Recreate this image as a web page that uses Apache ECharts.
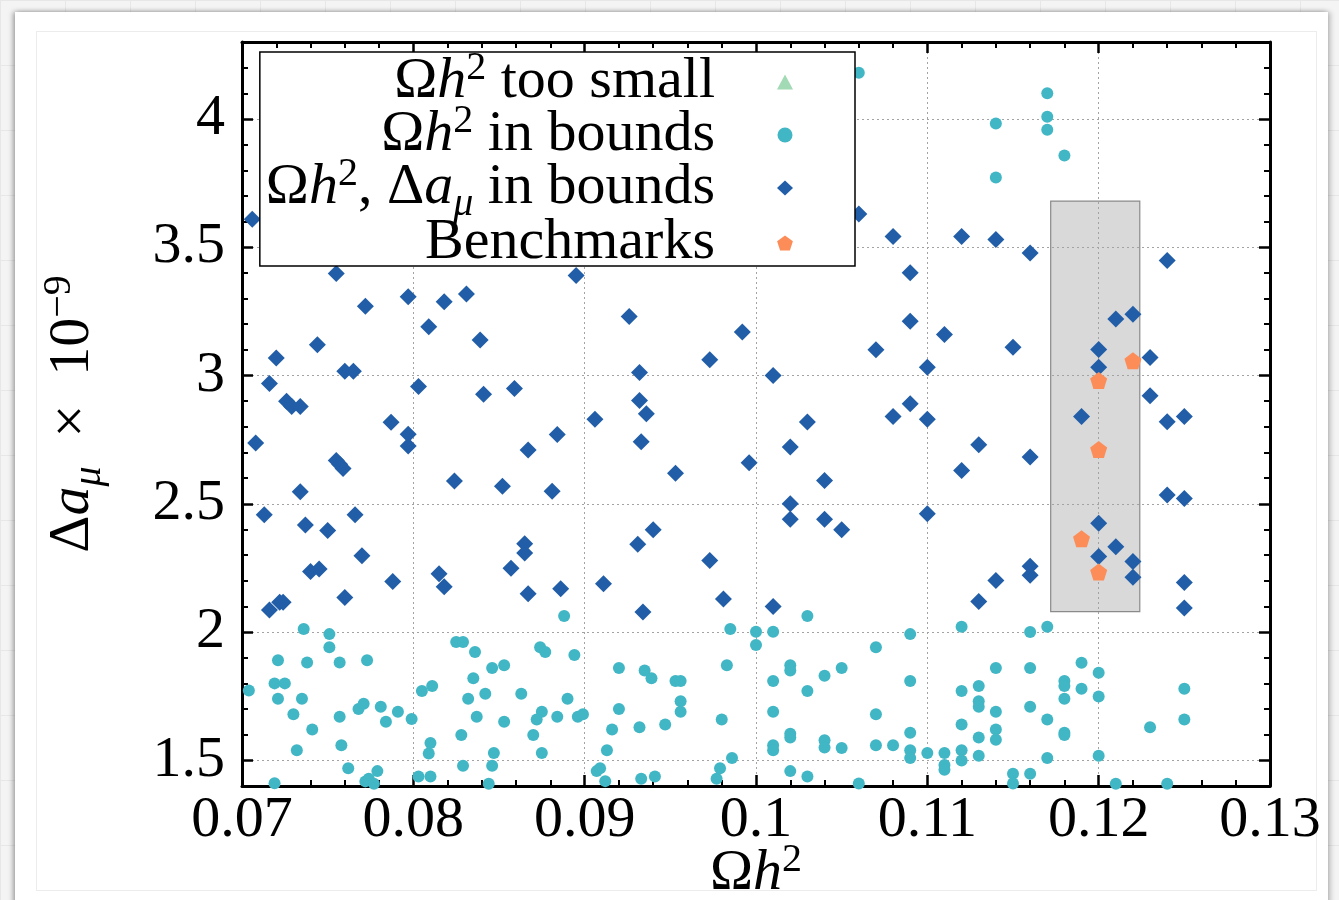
<!DOCTYPE html>
<html>
<head>
<meta charset="utf-8">
<title>Relic density vs muon g-2</title>
<script src="https://cdn.jsdelivr.net/npm/echarts@6/dist/echarts.min.js"></script>
<style>
  html, body { margin: 0; padding: 0; width: 1339px; height: 900px; overflow: hidden; }
  body {
    background-color: #f4f4f4;
    background-image: linear-gradient(#e7e7e7 1px, transparent 1px),
                      linear-gradient(90deg, #e7e7e7 1px, transparent 1px);
    background-size: 65px 65px;
  }
  #sheet {
    position: absolute; left: 15px; top: 12px; width: 1313px; height: 900px;
    background: #ffffff;
    box-shadow: -2px 0 5px rgba(0,0,0,0.35), 3px 0 5px rgba(0,0,0,0.18);
  }
  #inner {
    position: absolute; left: 36px; top: 31px; width: 1281px; height: 860px;
    border: 1px solid #ececec; box-sizing: border-box;
  }
  #chart { position: absolute; left: 0; top: 0; width: 1339px; height: 900px; }
</style>
</head>
<body>
<div id="sheet"></div>
<div id="inner"></div>
<div id="chart"></div>
<script>
// Scan points: [Omega h^2, Delta a_mu x 1e9]
const tooSmall = [];

const inBounds = [
  [0.0704,1.772],[0.0719,1.411],[0.0719,1.800],[0.0721,1.890],[0.0721,1.740],[0.0725,1.800],
  [0.0730,1.680],[0.0732,1.539],[0.0735,1.740],[0.0736,2.012],[0.0738,1.881],[0.0741,1.620],
  [0.0751,1.992],[0.0751,1.941],[0.0757,1.881],[0.0757,1.670],[0.0758,1.559],[0.0762,1.469],
  [0.0768,1.700],[0.0771,1.721],[0.0773,1.890],[0.0772,1.418],[0.0774,1.428],[0.0777,1.409],
  [0.0779,1.458],[0.0781,1.709],[0.0784,1.650],[0.0791,1.689],[0.0799,1.661],[0.0803,1.437],
  [0.0805,1.770],[0.0811,1.790],[0.0809,1.527],[0.0810,1.568],[0.0810,1.437],[0.0825,1.961],
  [0.0829,1.961],[0.0836,1.922],[0.0835,1.820],[0.0832,1.740],[0.0842,1.760],[0.0846,1.860],
  [0.0853,1.871],[0.0837,1.670],[0.0828,1.599],[0.0829,1.479],[0.0846,1.479],[0.0847,1.529],
  [0.0844,1.409],[0.0853,1.650],[0.0863,1.760],[0.0874,1.941],[0.0877,1.922],[0.0875,1.689],
  [0.0872,1.659],[0.0870,1.599],[0.0875,1.529],[0.0884,1.670],[0.0888,2.063],[0.0890,1.740],
  [0.0894,1.911],[0.0896,1.670],[0.0899,1.680],[0.0907,1.458],[0.0909,1.469],[0.0912,1.419],
  [0.0913,1.539],[0.0916,1.620],[0.0920,1.700],[0.0920,1.860],[0.0932,1.629],[0.0933,1.428],
  [0.0935,1.850],[0.0939,1.820],[0.0941,1.437],[0.0947,1.640],[0.0953,1.809],[0.0956,1.809],
  [0.0956,1.730],[0.0956,1.689],[0.0977,1.428],[0.0979,1.469],[0.0980,1.659],[0.0983,1.871],
  [0.0985,2.012],[0.0986,1.509],[0.1000,2.001],[0.1000,1.950],[0.1010,2.001],[0.1010,1.809],
  [0.1010,1.689],[0.1010,1.559],[0.1010,1.539],
  [0.1030,2.063],[0.1030,1.770],[0.1030,1.437],[0.1020,1.871],[0.1020,1.850],[0.1020,1.604],
  [0.1020,1.589],[0.1020,1.458],[0.1040,1.830],[0.1040,1.578],[0.1040,1.550],[0.1050,1.860],
  [0.1050,1.548],[0.1060,1.410],[0.1070,1.941],[0.1070,1.680],[0.1070,1.559],[0.1080,1.559],
  [0.1090,1.992],[0.1090,1.809],[0.1090,1.608],[0.1090,1.539],[0.1090,1.509],[0.1100,1.529],
  [0.1110,1.529],[0.1110,1.482],[0.1110,1.463],[0.1120,2.021],[0.1120,1.770],[0.1120,1.640],
  [0.1120,1.539],[0.1120,1.499],[0.1130,1.790],[0.1130,1.730],[0.1130,1.709],[0.1130,1.589],
  [0.1130,1.518],[0.1140,1.860],[0.1140,1.689],[0.1140,1.620],[0.1140,1.580],[0.1150,1.448],
  [0.1150,1.410],[0.1160,2.000],[0.1160,1.860],[0.1160,1.709],[0.1160,1.448],[0.1170,2.021],
  [0.1170,1.659],[0.1170,1.509],[0.1180,1.809],[0.1180,1.790],[0.1180,1.740],[0.1180,1.608],
  [0.1180,1.599],[0.1190,1.880],[0.1190,1.779],[0.1200,1.841],[0.1200,1.749],[0.1200,1.518],
  [0.1210,1.409],[0.1230,1.629],[0.1240,1.409],[0.1250,1.779],[0.1250,1.659],
  [0.1060,4.180],[0.1140,3.982],[0.1140,3.772],[0.1170,4.100],[0.1170,4.009],[0.1170,3.958],
  [0.1180,3.858]
];

const bothInBounds = [
  [0.0706,3.609],[0.0755,3.398],[0.0772,3.270],[0.0797,3.307],[0.0818,3.288],[0.0831,3.318],
  [0.0809,3.190],[0.0839,3.138],[0.0744,3.120],[0.0720,3.068],[0.0760,3.017],[0.0765,3.017],
  [0.0716,2.969],[0.0803,2.957],[0.0841,2.927],[0.0726,2.900],[0.0729,2.879],[0.0734,2.879],
  [0.0787,2.818],[0.0797,2.771],[0.0797,2.725],[0.0708,2.737],[0.0755,2.669],[0.0757,2.654],
  [0.0759,2.638],[0.0824,2.589],[0.0852,2.568],[0.0734,2.547],[0.0713,2.457],[0.0766,2.457],
  [0.0737,2.417],[0.0750,2.396],[0.0770,2.297],[0.0740,2.236],[0.0745,2.246],[0.0815,2.227],
  [0.0818,2.177],[0.0788,2.197],[0.0760,2.135],[0.0716,2.086],[0.0722,2.116],[0.0724,2.116],
  [0.0895,3.390],[0.0926,3.230],[0.0992,3.170],[0.0973,3.061],[0.0932,3.012],[0.0859,2.949],
  [0.0932,2.903],[0.0936,2.851],[0.0906,2.830],[0.0884,2.770],[0.0867,2.710],[0.0933,2.742],
  [0.0996,2.660],[0.0953,2.619],[0.0881,2.549],[0.0940,2.399],[0.0931,2.342],[0.0865,2.344],
  [0.0865,2.308],[0.0857,2.249],[0.0973,2.279],[0.0911,2.188],[0.0886,2.169],[0.0867,2.149],
  [0.0981,2.129],[0.0934,2.078],
  [0.1060,3.630],[0.1080,3.542],[0.1120,3.542],[0.1140,3.530],[0.1090,3.401],[0.1090,3.212],
  [0.1110,3.160],[0.1070,3.100],[0.1150,3.110],[0.1100,3.032],[0.1010,3.000],[0.1090,2.890],
  [0.1080,2.840],[0.1100,2.830],[0.1030,2.819],[0.1020,2.721],[0.1130,2.730],[0.1120,2.630],
  [0.1040,2.591],[0.1020,2.500],[0.1020,2.440],[0.1040,2.440],[0.1050,2.399],[0.1100,2.461],
  [0.1140,2.201],[0.1130,2.119],[0.1010,2.100],
  [0.1160,3.478],[0.1240,3.448],[0.1210,3.220],[0.1220,3.239],[0.1200,3.101],[0.1230,3.070],
  [0.1200,3.032],[0.1230,2.921],[0.1190,2.840],[0.1240,2.820],[0.1250,2.840],[0.1160,2.682],
  [0.1240,2.534],[0.1250,2.521],[0.1200,2.424],[0.1210,2.333],[0.1200,2.295],[0.1220,2.275],
  [0.1160,2.257],[0.1160,2.221],[0.1220,2.214],[0.1250,2.193],[0.1250,2.094]
];

const benchmarks = [
  [0.1220,3.058],[0.1200,2.981],[0.1200,2.712],[0.1190,2.364],[0.1200,2.234]
];

// Allowed windows for the relic density and the anomalous moment
const omegaBounds = [0.1172, 0.1224];
const amuBounds = [2.08, 3.68];

const xRange = [0.07, 0.13];
const yRange = [1.4, 4.3];

const seriesNames = [
  'Ωh² too small',
  'Ωh² in bounds',
  'Ωh², Δaμ in bounds',
  'Benchmarks'
];
const legendLabels = {
  'Ωh² too small': '{t|Ω}{i|h}{sup|2}{t| too small}',
  'Ωh² in bounds': '{t|Ω}{i|h}{sup|2}{t| in bounds}',
  'Ωh², Δaμ in bounds': '{t|Ω}{i|h}{sup|2}{t|, Δ}{i|a}{sub|μ}{t| in bounds}',
  'Benchmarks': '{t|Benchmarks}'
};

const F = '"Liberation Serif", "Times New Roman", "DejaVu Serif", serif';
// Rich-text styles: every token gets an explicit box height inside the line,
// superscripts hang from the line top and subscripts sit on the line bottom.
function makeRich(lh, size) {
  const small = Math.round(size * 0.69);
  return {
    t:   { fontFamily: F, fontSize: size, lineHeight: lh, height: lh, color: '#000' },
    i:   { fontFamily: F, fontSize: size, lineHeight: lh, height: lh, color: '#000', fontStyle: 'italic' },
    sup: { fontFamily: F, fontSize: small, height: lh - 28, lineHeight: lh, verticalAlign: 'top', color: '#000' },
    sub: { fontFamily: F, fontSize: small, height: lh - 32, lineHeight: lh, verticalAlign: 'bottom', color: '#000', fontStyle: 'italic' }
  };
}

const pentagon = 'path://M0,-1L0.951,-0.309L0.588,0.809L-0.588,0.809L-0.951,-0.309Z';

const axisCommon = {
  type: 'value',
  axisLine: { show: true, onZero: false, lineStyle: { color: '#000', width: 3 } },
  axisTick: { show: true, inside: true, length: 11, lineStyle: { color: '#000', width: 2.5 } },
  minorTick: { show: true, splitNumber: 5, length: 6, lineStyle: { color: '#000', width: 2 } }
};
const gridLine = { show: true, lineStyle: { color: '#a3a3a3', width: 1, type: [2, 3] } };
const tickFont = { fontFamily: F, fontSize: 58, color: '#000' };

const chart = echarts.init(document.getElementById('chart'), null, { renderer: 'canvas' });
chart.setOption({
  animation: false,
  backgroundColor: 'transparent',
  grid: { left: 242, right: 69, top: 42, bottom: 114, containLabel: false, outerBoundsMode: 'none' },
  xAxis: [
    Object.assign({}, axisCommon, {
      position: 'bottom', min: xRange[0], max: xRange[1], interval: 0.01,
      splitLine: gridLine,
      axisLabel: Object.assign({ margin: 6, showMinLabel: true, showMaxLabel: true }, tickFont),
      name: '{t|Ω}{i|h}{sup|2}', nameLocation: 'middle', nameGap: 58, nameMoveOverlap: false,
      nameTextStyle: { fontFamily: F, fontSize: 58, color: '#000', rich: makeRich(60, 58) }
    }),
    Object.assign({}, axisCommon, {
      position: 'top', min: xRange[0], max: xRange[1], interval: 0.01,
      splitLine: { show: false }, axisLabel: { show: false }
    })
  ],
  yAxis: [
    Object.assign({}, axisCommon, {
      position: 'left', min: yRange[0], max: yRange[1],
      splitLine: gridLine,
      axisLabel: Object.assign({ margin: 17, showMinLabel: false, showMaxLabel: false }, tickFont),
      name: '{t|Δ}{i|a}{sub|μ}{t|\u2002×\u200210}{sup|−9}', nameLocation: 'middle', nameRotate: 90,
      nameGap: 139, nameMoveOverlap: false,
      nameTextStyle: { fontFamily: F, fontSize: 58, color: '#000', rich: makeRich(60, 58) }
    }),
    Object.assign({}, axisCommon, {
      position: 'right', min: yRange[0], max: yRange[1],
      splitLine: { show: false }, axisLabel: { show: false }
    })
  ],
  legend: {
    data: seriesNames,
    orient: 'vertical',
    right: 484, top: 52,
    align: 'right',
    itemWidth: 16, itemHeight: 15, itemGap: -10,
    symbolKeepAspect: true,
    padding: [-4, 62, -6, 6],
    backgroundColor: '#ffffff',
    borderColor: '#000', borderWidth: 1.5, borderRadius: 0,
    selectedMode: false,
    textStyle: { fontFamily: F, fontSize: 58, lineHeight: 48, color: '#000', padding: [0, 57, 0, 0], rich: makeRich(48, 58) },
    formatter: function (name) { return legendLabels[name]; }
  },
  series: [
    {
      name: 'bounds', type: 'scatter', data: [], silent: true,
      markArea: {
        silent: true, z: -1,
        label: { show: false },
        itemStyle: { color: '#d9d9d9', borderColor: '#8a8a8a', borderWidth: 1.2, opacity: 1 },
        data: [[{ coord: [omegaBounds[0], amuBounds[0]] }, { coord: [omegaBounds[1], amuBounds[1]] }]]
      }
    },
    {
      name: seriesNames[0], type: 'scatter', symbol: 'triangle', symbolSize: 14,
      itemStyle: { color: '#a1dab4', opacity: 1 }, data: tooSmall
    },
    {
      name: seriesNames[1], type: 'scatter', symbol: 'circle', symbolSize: 12,
      itemStyle: { color: '#41b6c4', opacity: 1 }, data: inBounds
    },
    {
      name: seriesNames[2], type: 'scatter', symbol: 'diamond', symbolSize: 17,
      itemStyle: { color: '#225ea8', opacity: 1 }, data: bothInBounds
    },
    {
      name: seriesNames[3], type: 'scatter', symbol: pentagon, symbolSize: 17,
      itemStyle: { color: '#fc8d59', opacity: 1 }, data: benchmarks
    }
  ]
});
</script>
</body>
</html>
